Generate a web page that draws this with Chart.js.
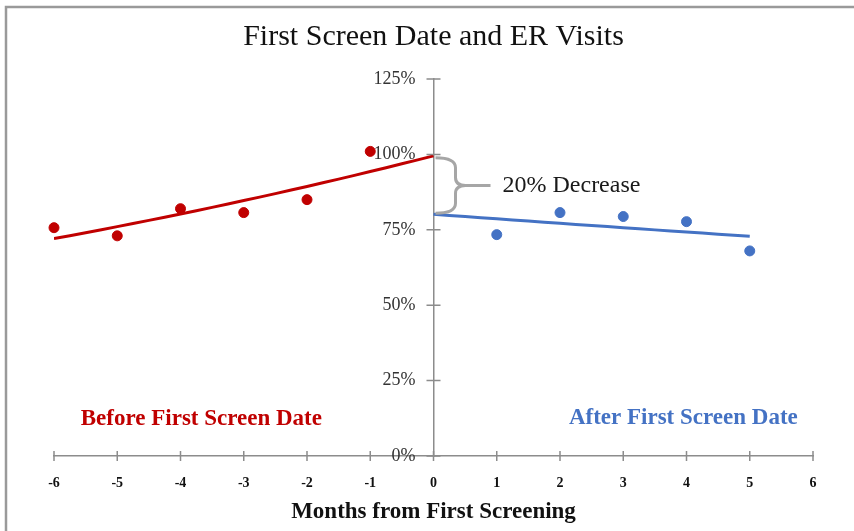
<!DOCTYPE html>
<html>
<head>
<meta charset="utf-8">
<script src="https://cdn.jsdelivr.net/npm/chart.js@4"></script>
<style>
  body { margin: 0; background: #fff; }
  #wrap { position: relative; width: 854px; height: 531px; }
  #er-chart { position: absolute; left: 0; top: 0; }
</style>
</head>
<body>
<div id="wrap"><canvas id="er-chart" width="854" height="531"></canvas></div>
<script>
// values (share of visits, 1 = 100%)
const beforeMonths = [-6, -5, -4, -3, -2, -1];
const beforeVisits = [0.757, 0.730, 0.820, 0.807, 0.850, 1.010];
const afterMonths = [1, 2, 3, 4, 5];
const afterVisits = [0.734, 0.807, 0.794, 0.777, 0.680];
const xTicks = [-6, -5, -4, -3, -2, -1, 0, 1, 2, 3, 4, 5, 6];
const yTicks = [0, 0.25, 0.5, 0.75, 1, 1.25];

const RED = '#C00000';
const BLUE = '#4472C4';
const SERIF = "'Liberation Serif', 'DejaVu Serif', serif";

// exponential trendline (least squares on log y), like the spreadsheet one
function expFit(xs, ys) {
    const n = xs.length;
    const ly = ys.map(v => Math.log(v));
    const mx = xs.reduce((a, b) => a + b, 0) / n;
    const my = ly.reduce((a, b) => a + b, 0) / n;
    let sxy = 0, sxx = 0;
    xs.forEach((x, i) => { sxy += (x - mx) * (ly[i] - my); sxx += (x - mx) * (x - mx); });
    const b = sxy / sxx;
    const a = my - b * mx;
    return x => Math.exp(a + b * x);
}
function trendPoints(fn, from, to) {
    const pts = [];
    for (let x = from; x <= to + 1e-9; x += 0.25) pts.push({ x: x, y: fn(x) });
    return pts;
}
const beforeFit = expFit(beforeMonths, beforeVisits);
const afterFit = expFit(afterMonths, afterVisits);

const toPts = (xs, ys) => xs.map((x, i) => ({ x: x, y: ys[i] }));

// tick marks that cross the axis lines, a brace and the notes
const extrasPlugin = {
    id: 'extras',
    afterDraw(chart) {
        const { ctx, scales: { x, y } } = chart;
        const x0 = x.getPixelForValue(0);
        const y0 = y.getPixelForValue(0);
        ctx.save();
        ctx.strokeStyle = '#8c8c8c';
        ctx.lineWidth = 1.5;
        ctx.beginPath();
        yTicks.forEach(v => {
            const py = y.getPixelForValue(v);
            ctx.moveTo(x0 - 7, py); ctx.lineTo(x0 + 7, py);
        });
        xTicks.forEach(v => {
            const px = x.getPixelForValue(v);
            ctx.moveTo(px, y0 - 5); ctx.lineTo(px, y0 + 5);
        });
        ctx.stroke();

        // brace between the two trend lines at month 0
        const top = y.getPixelForValue(beforeFit(0)) + 2;
        const bot = y.getPixelForValue(afterFit(0)) - 1;
        const mid = (top + bot) / 2;
        const l = x0 + 2, c = x0 + 22, tip = x0 + 32;
        ctx.strokeStyle = '#a6a6a6';
        ctx.lineWidth = 3;
        ctx.beginPath();
        ctx.moveTo(l, top);
        ctx.quadraticCurveTo(c, top, c, top + 10);
        ctx.lineTo(c, mid - 8);
        ctx.quadraticCurveTo(c, mid, tip, mid);
        ctx.quadraticCurveTo(c, mid, c, mid + 8);
        ctx.lineTo(c, bot - 10);
        ctx.quadraticCurveTo(c, bot, l, bot);
        ctx.moveTo(tip, mid);
        ctx.lineTo(x0 + 57, mid);
        ctx.stroke();

        ctx.fillStyle = '#1a1a1a';
        ctx.font = '24px ' + SERIF;
        ctx.textAlign = 'left';
        ctx.textBaseline = 'middle';
        ctx.fillText('20% Decrease', x0 + 69, mid);

        ctx.font = 'bold 23px ' + SERIF;
        ctx.textAlign = 'center';
        ctx.fillStyle = RED;
        ctx.fillText('Before First Screen Date', x.getPixelForValue(-3.67), y.getPixelForValue(0.123));
        ctx.fillStyle = BLUE;
        ctx.fillText('After First Screen Date', x.getPixelForValue(3.95), y.getPixelForValue(0.126));

        // frame edges seen at the top and left of the picture
        ctx.strokeStyle = '#9a9a9a';
        ctx.lineWidth = 2.5;
        ctx.beginPath();
        ctx.moveTo(6, chart.height); ctx.lineTo(6, 7); ctx.lineTo(chart.width, 7);
        ctx.stroke();
        ctx.restore();
    }
};

const ctx = document.getElementById('er-chart').getContext('2d');
new Chart(ctx, {
    type: 'scatter',
    data: {
        datasets: [
            {
                label: 'Before trend',
                data: trendPoints(beforeFit, -6, 0),
                showLine: true,
                borderColor: RED,
                borderWidth: 3,
                pointRadius: 0,
                tension: 0
            },
            {
                label: 'After trend',
                data: trendPoints(afterFit, 0, 5),
                showLine: true,
                borderColor: BLUE,
                borderWidth: 3,
                pointRadius: 0,
                tension: 0
            },
            {
                label: 'Before First Screen Date',
                data: toPts(beforeMonths, beforeVisits),
                backgroundColor: RED,
                borderColor: RED,
                pointRadius: 5,
                clip: false
            },
            {
                label: 'After First Screen Date',
                data: toPts(afterMonths, afterVisits),
                backgroundColor: BLUE,
                borderColor: BLUE,
                pointRadius: 5,
                clip: false
            }
        ]
    },
    options: {
        responsive: false,
        animation: false,
        layout: { padding: { left: 54, right: 41, top: 0, bottom: 0 } },
        plugins: {
            legend: { display: false },
            tooltip: { enabled: false },
            title: {
                display: true,
                text: 'First Screen Date and ER Visits',
                color: '#111',
                font: { family: SERIF, size: 30, weight: 'normal' },
                padding: { top: 19, bottom: 24 }
            }
        },
        scales: {
            x: {
                type: 'linear',
                position: 'bottom',
                min: -6,
                max: 6,
                afterBuildTicks: s => { s.ticks = xTicks.map(v => ({ value: v })); },
                afterFit: s => { s.height = 75; },
                grid: { display: false },
                border: { display: true, color: '#8c8c8c', width: 1.5 },
                ticks: {
                    padding: 11,
                    color: '#111',
                    font: { family: SERIF, size: 14, weight: 'bold' }
                },
                title: {
                    display: true,
                    text: 'Months from First Screening',
                    color: '#111',
                    font: { family: SERIF, size: 23, weight: 'bold' },
                    padding: { top: 0, bottom: 5 }
                }
            },
            y: {
                type: 'linear',
                position: { x: 0 },
                min: 0,
                max: 1.25,
                afterBuildTicks: s => { s.ticks = yTicks.map(v => ({ value: v })); },
                afterFit: s => { s.width = 0; },
                grid: { display: false },
                border: { display: true, color: '#8c8c8c', width: 1.5 },
                ticks: {
                    color: '#333',
                    font: { family: SERIF, size: 18 },
                    // trailing space keeps the labels clear of the centred axis
                    callback: v => Math.round(v * 100) + '%\u2003'
                }
            }
        }
    },
    plugins: [extrasPlugin]
});
</script>
</body>
</html>
